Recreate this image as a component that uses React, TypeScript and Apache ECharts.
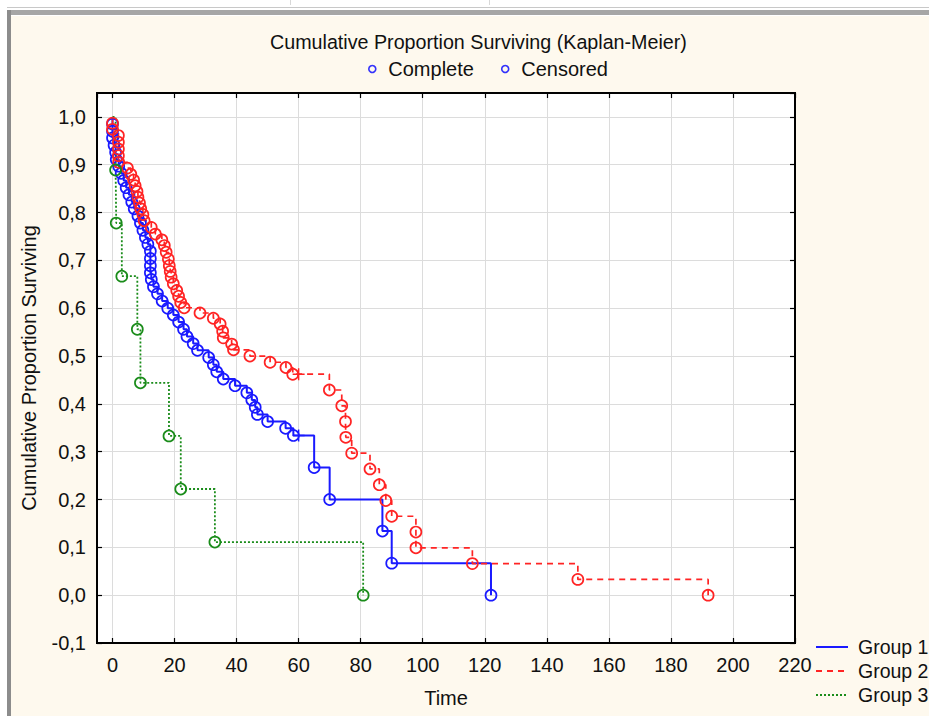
import React, { useEffect, useRef } from "react";
import * as echarts from "echarts";

// ---- data ----
const group1Time = [0, 0, 0, 0.5, 1, 1.2, 2, 2.8, 3.6, 4.4, 5.3, 6.2, 7, 8.2, 9, 9.8, 10.6, 11.4, 12.2, 12.2, 12.2, 12.2, 12.5, 13.2, 14.5, 16, 17.8, 19.6, 21.3, 22.9, 24, 26, 27.4, 31, 32.5, 33.6, 35.7, 39.5, 43.3, 44.9, 46, 46.7, 50, 55.8, 58.3, 60, 65, 70, 87, 90, 122];
const group1Surv = [0.985, 0.970, 0.956, 0.941, 0.926, 0.911, 0.897, 0.882, 0.867, 0.852, 0.837, 0.822, 0.808, 0.793, 0.778, 0.763, 0.748, 0.734, 0.719, 0.704, 0.689, 0.674, 0.660, 0.645, 0.630, 0.615, 0.600, 0.586, 0.571, 0.556, 0.541, 0.526, 0.512, 0.497, 0.482, 0.467, 0.452, 0.438, 0.423, 0.408, 0.393, 0.378, 0.363, 0.349, 0.334, 0.334, 0.267, 0.200, 0.134, 0.067, 0];
const group1Censored = [45];

const group2Time = [0, 0, 1.9, 1.9, 1.9, 1.9, 2, 4.8, 5.9, 6.8, 7.3, 7.9, 8.2, 8.7, 9.1, 9.8, 10.2, 12.5, 13.8, 15.9, 16.7, 17.3, 18, 18.3, 18.6, 18.9, 19.6, 20.7, 21.3, 22, 23.1, 28.2, 32.5, 34.7, 35.5, 35.7, 38.4, 39, 44.3, 50.8, 55.9, 58.1, 60, 69.9, 73.9, 75.1, 75.2, 77.1, 83, 86, 88.1, 90, 97.8, 97.8, 116, 150, 192];
const group2Surv = [0.987, 0.974, 0.961, 0.947, 0.933, 0.919, 0.905, 0.893, 0.880, 0.868, 0.856, 0.844, 0.832, 0.820, 0.808, 0.796, 0.783, 0.769, 0.755, 0.743, 0.731, 0.717, 0.703, 0.689, 0.677, 0.665, 0.651, 0.637, 0.625, 0.612, 0.601, 0.590, 0.579, 0.567, 0.552, 0.538, 0.525, 0.513, 0.500, 0.487, 0.476, 0.462, 0.462, 0.429, 0.396, 0.363, 0.330, 0.297, 0.264, 0.231, 0.198, 0.165, 0.132, 0.099, 0.066, 0.033, 0];
const group2Censored = [42];

const group3Time = [1, 1.2, 3, 8, 9, 18.2, 22, 33, 80.8];
const group3Surv = [0.889, 0.778, 0.667, 0.556, 0.444, 0.333, 0.222, 0.111, 0];
const group3Censored: number[] = [];

const seriesNames = ["Group 1", "Group 2", "Group 3"];
const markerNames = ["Complete", "Censored"];

const TITLE = "Cumulative Proportion Surviving (Kaplan-Meier)";
const X_NAME = "Time";
const Y_NAME = "Cumulative Proportion Surviving";

const FONT = "'Liberation Sans', Arial, sans-serif";
const FS = 20;
const BLUE = "#1a1aff";
const RED = "#ff2424";
const GREEN = "#1a8c1a";
const PLUS = "path://M4.4,0H5.6V4.4H10V5.6H5.6V10H4.4V5.6H0V4.4H4.4Z";

function buildData(t: number[], s: number[], cens: number[], color: string) {
  const d: any[] = [{ value: [0, 1], symbol: "none" }];
  t.forEach((x, i) => {
    if (cens.includes(i)) {
      d.push({ value: [x, s[i]], symbol: PLUS, symbolSize: 12, itemStyle: { color, borderWidth: 0 } });
    } else {
      d.push({ value: [x, s[i]] });
    }
  });
  return d;
}

function kmSeries(name: string, t: number[], s: number[], cens: number[], color: string, type: any, width: number) {
  return {
    name,
    type: "line",
    step: "end",
    data: buildData(t, s, cens, color),
    symbol: "circle",
    symbolSize: 11,
    showAllSymbol: true,
    lineStyle: { color, width, type },
    itemStyle: { color: "rgba(0,0,0,0)", borderColor: color, borderWidth: 1.7 },
    emphasis: { disabled: true },
    xAxisIndex: 0,
    yAxisIndex: 0,
  };
}

const yFmt = (v: number) => (Math.abs(v) < 1e-9 ? 0 : v).toFixed(1).replace(".", ",");

export default function App() {
  const ref = useRef<HTMLDivElement>(null);
  useEffect(() => {
    if (!ref.current) return;
    const chart = echarts.init(ref.current, undefined, { renderer: "svg" });
    const xCommon = {
      type: "value",
      min: -5,
      max: 220,
      splitNumber: 11,
      minInterval: 20,
      maxInterval: 20,
    };
    const yCommon = { type: "value", min: -0.1, max: 1.05, interval: 0.1 };
    const axisLine = { show: true, onZero: false, lineStyle: { color: "#000", width: 2 } };
    const axisTick = { show: true, inside: true, length: 5, lineStyle: { color: "#000", width: 1.2 } };
    const txt = { fontFamily: FONT, fontSize: FS, color: "#111" };
    chart.setOption({
      animation: false,
      backgroundColor: "#fef9ee",
      textStyle: { fontFamily: FONT },
      title: {
        text: TITLE,
        left: 265,
        top: 27,
        textStyle: { ...txt, fontSize: 19.7, fontWeight: "normal" },
      },
      legend: [
        {
          data: markerNames,
          top: 54,
          left: 363,
          icon: "circle",
          itemWidth: 22,
          itemHeight: 7,
          itemGap: 27,
          selectedMode: false,
          itemStyle: { color: "rgba(0,0,0,0)", borderColor: "#0000ff", borderWidth: 1.6 },
          textStyle: txt,
        },
        {
          data: seriesNames,
          orient: "vertical",
          left: 810,
          top: 632,
          itemWidth: 32,
          itemHeight: 14,
          itemGap: 4,
          selectedMode: false,
          itemStyle: { color: "rgba(0,0,0,0)", borderWidth: 0 },
          textStyle: { ...txt, fontSize: 19.5, padding: [0, 0, 0, 5] },
        },
      ],
      grid: {
        left: 97,
        top: 93,
        right: 134,
        bottom: 73,
        show: true,
        backgroundColor: "#ffffff",
        borderColor: "#000",
        borderWidth: 2,
      },
      xAxis: [
        {
          ...xCommon,
          position: "bottom",
          name: X_NAME,
          nameLocation: "middle",
          nameGap: 45,
          nameTextStyle: txt,
          axisLine,
          axisTick,
          axisLabel: { ...txt, showMinLabel: false, margin: 12 },
          splitLine: { show: true, lineStyle: { color: "#dcdcdc", width: 1 } },
        },
        {
          ...xCommon,
          position: "top",
          axisLine,
          axisTick,
          axisLabel: { show: false },
          splitLine: { show: false },
        },
      ],
      yAxis: [
        {
          ...yCommon,
          position: "left",
          name: Y_NAME,
          nameLocation: "middle",
          nameGap: 58,
          nameTextStyle: txt,
          axisLine,
          axisTick,
          axisLabel: { ...txt, formatter: yFmt, showMaxLabel: false, margin: 11 },
          splitLine: { show: true, lineStyle: { color: "#dcdcdc", width: 1 } },
        },
        {
          ...yCommon,
          position: "right",
          axisLine,
          axisTick,
          axisLabel: { show: false },
          splitLine: { show: false },
        },
      ],
      series: [
        kmSeries(seriesNames[0], group1Time, group1Surv, group1Censored, BLUE, "solid", 2),
        kmSeries(seriesNames[1], group2Time, group2Surv, group2Censored, RED, [6, 5], 1.7),
        kmSeries(seriesNames[2], group3Time, group3Surv, group3Censored, GREEN, [2, 2], 1.8),
        { name: markerNames[0], type: "scatter", data: [] },
        { name: markerNames[1], type: "scatter", data: [] },
      ],
      graphic: [
        { type: "rect", silent: true, shape: { x: 0, y: 0, width: 929, height: 16 }, style: { fill: "#ffffff" }, z: 100 },
        { type: "rect", silent: true, shape: { x: 0, y: 0, width: 11, height: 716 }, style: { fill: "#ffffff" }, z: 100 },
        { type: "rect", silent: true, shape: { x: 7, y: 7, width: 922, height: 1 }, style: { fill: "#c8c8c8" }, z: 101 },
        { type: "rect", silent: true, shape: { x: 7, y: 10, width: 922, height: 5 }, style: { fill: "#a6a6a6" }, z: 101 },
        { type: "rect", silent: true, shape: { x: 7, y: 10, width: 4, height: 706 }, style: { fill: "#8c8c8c" }, z: 101 },
        { type: "rect", silent: true, shape: { x: 290, y: 0, width: 1, height: 5 }, style: { fill: "#d8d8d8" }, z: 101 },
        { type: "rect", silent: true, shape: { x: 489, y: 0, width: 1, height: 5 }, style: { fill: "#d8d8d8" }, z: 101 },
      ],
    });
    return () => chart.dispose();
  }, []);
  return <div ref={ref} style={{ position: "absolute", left: 0, top: 0, width: 929, height: 716 }} />;
}
